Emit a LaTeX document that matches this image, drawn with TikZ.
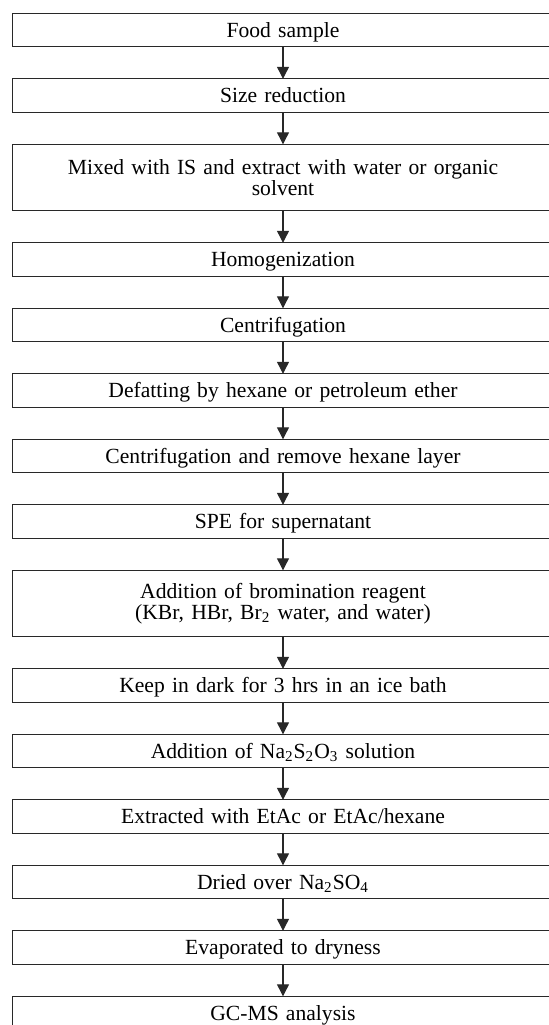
\documentclass[tikz,border=0pt]{standalone}
\usepackage{fontspec}
\setmainfont{Liberation Serif}[WordSpace=0.8]
\usetikzlibrary{arrows.meta,positioning}
\definecolor{flowline}{RGB}{40,40,40}

\begin{document}
\begin{tikzpicture}[x=1pt,y=1pt,node distance=16pt,
  basebox/.style={draw=flowline,line width=0.65pt,minimum width=270.3pt,inner sep=0pt,outer sep=0pt,
    text width=262pt,align=center,font=\fontsize{10.8}{9.7}\selectfont},
  procbox/.style={basebox,minimum height=16.75pt,text height=7.4pt,text depth=0.4pt},
  procboxtall/.style={basebox,minimum height=33.25pt},
  flowarrow/.style={draw=flowline,line width=0.55pt,-{Triangle[width=6pt,length=6pt]}}]
\useasboundingbox (0,0) rectangle (274.5,-512.5);
\clip (0,0) rectangle (274.5,-512.5);
% steps, top to bottom
\node[procbox,anchor=north] (food) at (141.5,-6.65) {Food sample};
\node[procbox,below=of food] (size) {Size reduction};
\node[procboxtall,below=of size] (mix) {Mixed with IS and extract with water or organic\\solvent};
\node[procbox,below=of mix] (homog) {Homogenization};
\node[procbox,below=of homog] (centa) {Centrifugation};
\node[procbox,below=of centa] (defat) {Defatting by hexane or petroleum ether};
\node[procbox,below=of defat] (centb) {Centrifugation and remove hexane layer};
\node[procbox,below=of centb] (spe) {SPE for supernatant};
\node[procboxtall,below=of spe] (brom) {Addition of bromination reagent\\(KBr, HBr, Br\textsubscript{2} water, and water)};
\node[procbox,below=of brom] (dark) {Keep in dark for 3 hrs in an ice bath};
\node[procbox,below=of dark] (thio) {Addition of Na\textsubscript{2}S\textsubscript{2}O\textsubscript{3} solution};
\node[procbox,below=of thio] (extr) {Extracted with EtAc or EtAc/hexane};
\node[procbox,below=of extr] (dry) {Dried over Na\textsubscript{2}SO\textsubscript{4}};
\node[procbox,below=of dry] (evap) {Evaporated to dryness};
\node[procbox,below=of evap] (gcms) {GC-MS analysis};
% connectors
\foreach \a/\b in {food/size,size/mix,mix/homog,homog/centa,centa/defat,defat/centb,
  centb/spe,spe/brom,brom/dark,dark/thio,thio/extr,extr/dry,dry/evap,evap/gcms}
  \draw[flowarrow] (\a.south) -- (\b.north);
\end{tikzpicture}
\end{document}
